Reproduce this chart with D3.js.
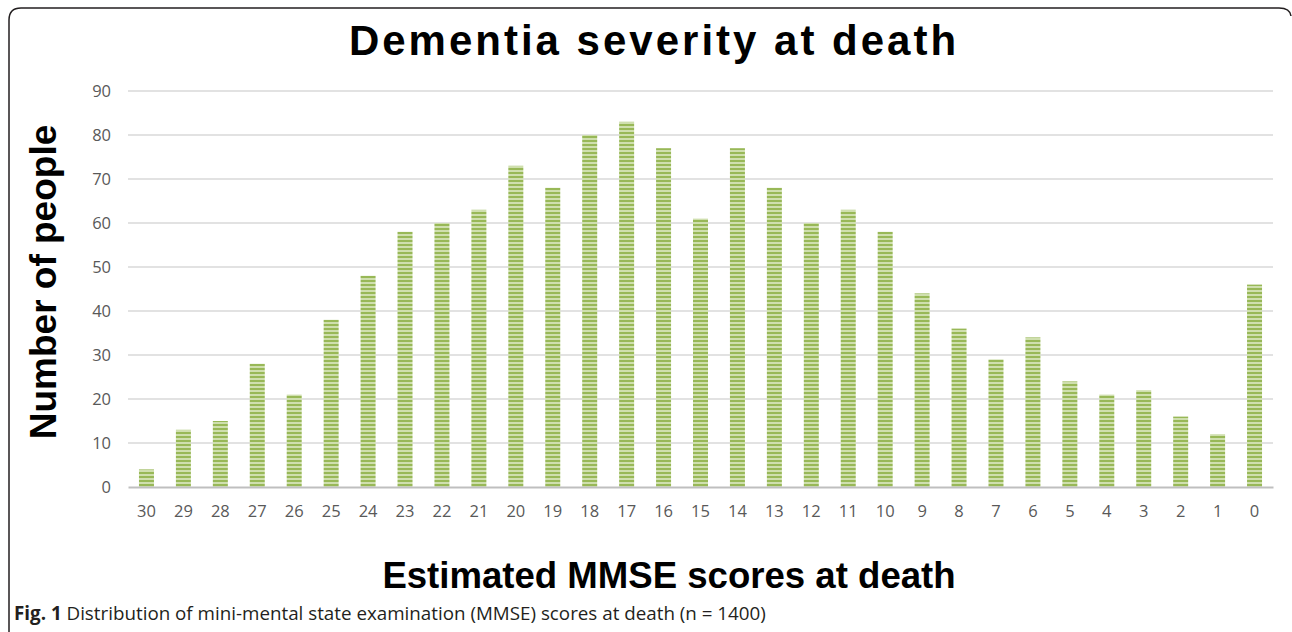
<!DOCTYPE html>
<html>
<head>
<meta charset="utf-8">
<script src="https://cdn.jsdelivr.net/npm/d3@7"></script>
<style>
  body { margin: 0; background: #fff; }
  svg { display: block; }
</style>
</head>
<body>
<div id="chart"></div>
<script>
// MMSE scores (x categories, left to right) and number of people
const scores = [30, 29, 28, 27, 26, 25, 24, 23, 22, 21, 20, 19, 18, 17, 16, 15,
  14, 13, 12, 11, 10, 9, 8, 7, 6, 5, 4, 3, 2, 1, 0];
const people = [4, 13, 15, 28, 21, 38, 48, 58, 60, 63, 73, 68, 80, 83, 77, 61,
  77, 68, 60, 63, 58, 44, 36, 29, 34, 24, 21, 22, 16, 12, 46];
const yTicks = [0, 10, 20, 30, 40, 50, 60, 70, 80, 90];

const width = 1292;
const height = 632;

const svg = d3.select('#chart')
  .append('svg')
  .attr('width', width)
  .attr('height', height);

// striped fill like the original figure
const defs = svg.append('defs');
const pat = defs.append('pattern')
  .attr('id', 'stripes')
  .attr('patternUnits', 'userSpaceOnUse')
  .attr('width', 8)
  .attr('height', 4);
pat.append('rect').attr('width', 8).attr('height', 4).attr('fill', '#cfdfae');
pat.append('rect').attr('width', 8).attr('height', 2).attr('fill', '#98b857');

// rounded frame (left, top and right edges)
svg.append('path')
  .attr('d', 'M9,640 L9,20 Q9,8 21,8 L1279,8 Q1290,8 1291,16')
  .attr('fill', 'none')
  .attr('stroke', '#231f20')
  .attr('stroke-width', 1.5);

const x = d3.scaleBand()
  .domain(scores)
  .range([128, 1273])
  .paddingInner(0.594)
  .paddingOuter(0.297);

const y = d3.scaleLinear()
  .domain([0, 90])
  .range([487, 91]);

// gridlines
svg.append('g')
  .selectAll('line')
  .data(yTicks.filter(d => d > 0))
  .join('line')
  .attr('x1', 128)
  .attr('x2', 1273)
  .attr('y1', d => y(d))
  .attr('y2', d => y(d))
  .attr('stroke', '#d9d9d9')
  .attr('stroke-width', 1.3);

// y tick labels
const yAxis = svg.append('g')
  .attr('transform', 'translate(111,0)')
  .call(d3.axisLeft(y).tickValues(yTicks).tickSize(0).tickPadding(0));
yAxis.select('.domain').remove();
yAxis.selectAll('text')
  .attr('font-family', '"Open Sans", sans-serif')
  .attr('font-size', 16.5)
  .attr('fill', '#595959');

// bars
svg.append('g')
  .selectAll('rect')
  .data(scores.map((s, i) => ({ score: s, value: people[i] })))
  .join('rect')
  .attr('x', d => x(d.score))
  .attr('width', x.bandwidth())
  .attr('y', d => y(d.value))
  .attr('height', d => y(0) - y(d.value))
  .attr('fill', 'url(#stripes)');

// x axis
const xAxis = svg.append('g')
  .attr('transform', `translate(0,${y(0)})`)
  .call(d3.axisBottom(x).tickSize(0).tickPadding(18));
xAxis.select('.domain')
  .attr('stroke', '#bfbfbf')
  .attr('stroke-width', 2);
xAxis.selectAll('text')
  .attr('font-family', '"Open Sans", sans-serif')
  .attr('font-size', 16.5)
  .attr('fill', '#595959');

// title
svg.append('text')
  .attr('x', 654)
  .attr('y', 55)
  .attr('text-anchor', 'middle')
  .attr('font-family', '"Liberation Sans", Arial, sans-serif')
  .attr('font-weight', 'bold')
  .attr('font-size', 42)
  .attr('letter-spacing', 3)
  .attr('fill', '#000')
  .text('Dementia severity at death');

// y axis title
svg.append('text')
  .attr('transform', 'translate(56,282) rotate(-90)')
  .attr('text-anchor', 'middle')
  .attr('font-family', '"Liberation Sans", Arial, sans-serif')
  .attr('font-weight', 'bold')
  .attr('font-size', 37)
  .attr('fill', '#000')
  .text('Number of people');

// x axis title
svg.append('text')
  .attr('x', 669)
  .attr('y', 588)
  .attr('text-anchor', 'middle')
  .attr('font-family', '"Liberation Sans", Arial, sans-serif')
  .attr('font-weight', 'bold')
  .attr('font-size', 36.6)
  .attr('fill', '#000')
  .text('Estimated MMSE scores at death');

// caption
const cap = svg.append('text')
  .attr('x', 14)
  .attr('y', 620)
  .attr('font-family', '"Open Sans", sans-serif')
  .attr('font-size', 18.8)
  .attr('fill', '#231f20');
cap.append('tspan').attr('font-weight', 'bold').text('Fig. 1');
cap.append('tspan').text(' Distribution of mini-mental state examination (MMSE) scores at death (n = 1400)');
</script>
</body>
</html>
